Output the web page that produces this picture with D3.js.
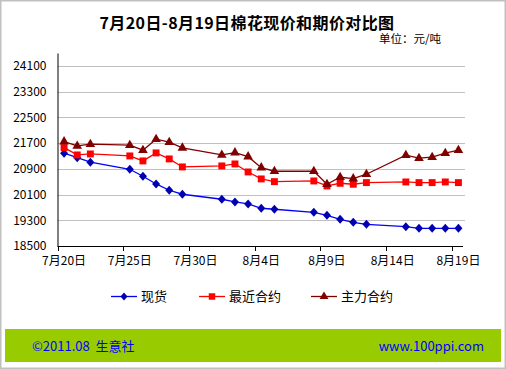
<!DOCTYPE html>
<html><head><meta charset="utf-8">
<script src="https://cdn.jsdelivr.net/npm/d3@7/dist/d3.min.js"></script>
<style>
html,body{margin:0;padding:0;background:#fff;}
svg{display:block;}
</style></head>
<body>
<svg id="chart" width="506" height="369"></svg>
<script>
// Calendar days shown on the category axis (7/20 .. 8/19)
const allDays = [
  "7/20","7/21","7/22","7/23","7/24","7/25","7/26","7/27","7/28","7/29","7/30","7/31",
  "8/1","8/2","8/3","8/4","8/5","8/6","8/7","8/8","8/9","8/10","8/11","8/12","8/13",
  "8/14","8/15","8/16","8/17","8/18","8/19"
];
// Trading days with data
const dates = [
  "7/20","7/21","7/22","7/25","7/26","7/27","7/28","7/29",
  "8/1","8/2","8/3","8/4","8/5","8/8","8/9","8/10","8/11","8/12",
  "8/15","8/16","8/17","8/18","8/19"
];
const spot = [
  21384,21247,21104,20886,20669,20429,20233,20109,
  19953,19869,19807,19673,19642,19548,19455,19331,19237,19175,
  19100,19051,19051,19051,19051
];
const nearest = [
  21559,21331,21362,21300,21145,21394,21207,20958,
  20989,21051,20802,20585,20501,20522,20367,20450,20420,20471,
  20491,20471,20471,20491,20471
];
const main = [
  21745,21611,21664,21633,21478,21820,21727,21549,
  21331,21403,21278,20936,20824,20824,20420,20637,20594,20731,
  21322,21229,21260,21384,21478
];
const yTicks = [18500,19300,20100,20900,21700,22500,23300,24100];
const xTickDays = ["7/20","7/25","7/30","8/4","8/9","8/14","8/19"];
const xTickLabels = ["7月20日","7月25日","7月30日","8月4日","8月9日","8月14日","8月19日"];
const seriesNames = ["现货","最近合约","主力合约"];

const svg = d3.select("#chart");
const W = 506, H = 369;
const font = "'Noto Sans CJK SC', 'DejaVu Sans', sans-serif";

// outer frame
svg.append("rect").attr("x",0.5).attr("y",0.5).attr("width",W-1).attr("height",H-1)
  .attr("fill","#fff").attr("stroke","#c0c0c0").attr("stroke-width",2);

const plot = {left:57.5, right:465, top:53, bottom:246};
const x = d3.scaleBand().domain(allDays).range([plot.left, plot.right]).paddingInner(0).paddingOuter(0);
const y = d3.scaleLinear().domain([18500,24500]).range([plot.bottom, plot.top]);

// gridlines
svg.append("g").selectAll("line").data(yTicks.slice(1)).join("line")
  .attr("x1",plot.left).attr("x2",plot.right)
  .attr("y1",d=>Math.round(y(d))+0.5).attr("y2",d=>Math.round(y(d))+0.5)
  .attr("stroke","#c0c0c0").attr("stroke-width",1);

// y axis
const yAxis = d3.axisLeft(y).tickValues(yTicks).tickSize(0).tickPadding(11).tickFormat(d3.format("d"));
const gy = svg.append("g").attr("transform",`translate(${plot.left},0)`).call(yAxis);
gy.select(".domain").attr("stroke","#000");
gy.selectAll("text").attr("font-family",font).attr("font-size",12).attr("fill","#000");

// x axis: ticks at band boundaries, labels at band centers
const gx = svg.append("g").attr("transform",`translate(0,${plot.bottom})`);
gx.append("line").attr("x1",plot.left).attr("x2",plot.right-2).attr("y1",0.5).attr("y2",0.5).attr("stroke","#000");
gx.selectAll("line.tick").data(xTickDays).join("line").attr("class","tick")
  .attr("x1",d=>Math.round(x(d))+0.5).attr("x2",d=>Math.round(x(d))+0.5)
  .attr("y1",0).attr("y2",5).attr("stroke","#000");
gx.selectAll("text").data(xTickDays).join("text")
  .attr("x",d=>x(d)+x.bandwidth()/2).attr("y",19)
  .attr("text-anchor","middle").attr("font-family",font).attr("font-size",12).attr("fill","#000")
  .text((d,i)=>xTickLabels[i]);

const cx = d => x(d)+x.bandwidth()/2;
const colors = {line:["#0000ff","#ff0000","#800000"], marker:["#0000b0","#ff0000","#800000"]};
const sets = [spot, nearest, main];
const symbols = [d3.symbolDiamond, d3.symbolSquare, d3.symbolTriangle];
const sizes = [36, 48, 40];

sets.forEach((vals,si)=>{
  const line = d3.line().x((d,i)=>cx(dates[i])).y(d=>y(d));
  svg.append("path").datum(vals).attr("d",line).attr("fill","none")
    .attr("stroke",colors.line[si]).attr("stroke-width",1.3);
});
sets.forEach((vals,si)=>{
  if(si===0){
    svg.append("g").selectAll("path").data(vals).join("path")
      .attr("transform",(d,i)=>`translate(${cx(dates[i])},${y(d)})`)
      .attr("d","M0,-4.5L4,0L0,4.5L-4,0Z").attr("fill",colors.marker[0]);
  } else {
    svg.append("g").selectAll("path").data(vals).join("path")
      .attr("transform",(d,i)=>`translate(${cx(dates[i])},${y(d)})`)
      .attr("d",d3.symbol().type(symbols[si]).size(sizes[si]))
      .attr("fill",colors.marker[si]);
  }
});

// legend
const legX = [111, 199, 311];
const legY = 296.5;
seriesNames.forEach((n,si)=>{
  const g = svg.append("g");
  g.append("line").attr("x1",legX[si]).attr("x2",legX[si]+26).attr("y1",legY).attr("y2",legY)
    .attr("stroke",colors.line[si]).attr("stroke-width",1.3);
  if(si===0){
    g.append("path").attr("transform",`translate(${legX[si]+13},${legY})`).attr("d","M0,-4L3.5,0L0,4L-3.5,0Z").attr("fill",colors.marker[0]);
  } else {
    g.append("path").attr("transform",`translate(${legX[si]+13},${legY})`)
      .attr("d",d3.symbol().type(symbols[si]).size(sizes[si]-6)).attr("fill",colors.marker[si]);
  }
  g.append("text").attr("x",legX[si]+30).attr("y",legY+4.5).attr("font-family",font)
    .attr("font-size",13).attr("fill","#000").text(n);
});

// title
svg.append("text").attr("x",247).attr("y",29).attr("text-anchor","middle")
  .attr("font-family",font).attr("font-weight","bold").attr("font-size",16).attr("letter-spacing",0.4).attr("fill","#000")
  .text("7月20日-8月19日棉花现价和期价对比图");
svg.append("text").attr("x",441).attr("y",43).attr("text-anchor","end")
  .attr("font-family",font).attr("font-size",11.5).attr("fill","#000").text("单位：元/吨");

// footer
svg.append("rect").attr("x",5).attr("y",329).attr("width",496).attr("height",33).attr("fill","#99cc00");
svg.append("text").attr("x",32).attr("y",350.5).attr("font-family",font).attr("font-size",13)
  .attr("fill","#0000ff").style("white-space","pre").text("©2011.08  生意社");
svg.append("text").attr("x",484).attr("y",350.5).attr("text-anchor","end").attr("font-family",font).attr("font-size",13)
  .attr("fill","#0000ff").text("www.100ppi.com");
</script>
</body></html>
